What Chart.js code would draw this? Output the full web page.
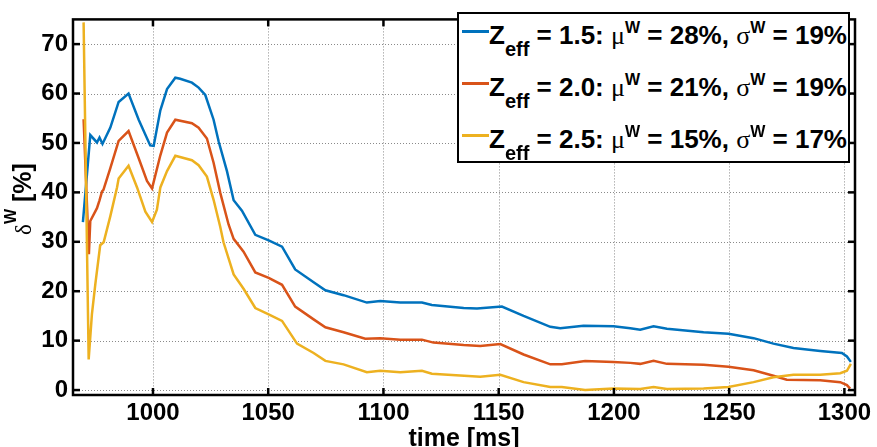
<!DOCTYPE html>
<html><head><meta charset="utf-8">
<script src="https://cdn.jsdelivr.net/npm/chart.js@4.4.0/dist/chart.umd.min.js"></script>
<style>
html,body{margin:0;padding:0;background:#fff;overflow:hidden}
#wrap{position:relative;width:877px;height:447px;overflow:hidden}
#c{position:absolute;left:0;top:0}
.lbl{font-family:"Liberation Sans",Arial,sans-serif;font-weight:bold;color:#000;white-space:nowrap;position:absolute}
.sym{font-family:"Liberation Serif","Times New Roman",serif;font-weight:normal}
.sub{position:relative;font-size:20px;top:12px}
.sup{position:relative;font-size:16px;top:-11px}
#legend{position:absolute;left:457px;top:12px;width:393px;height:151px;box-sizing:border-box;border:2px solid #000;background:#fff}
.row{position:absolute;left:0;width:100%;height:30px}
.sw{position:absolute;left:2.5px;top:10px;width:27px;height:2.5px}
.txt{left:30px;top:0;line-height:30px;font-size:26px}
#xt{left:0;width:928px;text-align:center;top:422px;font-size:25px;line-height:30px}
#yt{left:-76px;top:182px;width:200px;text-align:center;font-size:25px;line-height:30px;transform:rotate(-90deg)}
#yt .sup{top:-15px;font-size:16px}
</style></head>
<body>
<div id="wrap">
<canvas id="c" width="877" height="447"></canvas>
<div id="legend"></div>
<div class="lbl" id="xt">time [ms]</div>
<div class="lbl" id="yt"><span class="sym" style="font-size:23px">δ</span><span class="sup">W</span> [%]</div>
</div>
<script>
// ---- data ----
const xTicks = [1000, 1050, 1100, 1150, 1200, 1250, 1300];
const xTickLabels = ['1000', '1050', '1100', '1150', '1200', '1250', '1300'];
const yTicks = [0, 10, 20, 30, 40, 50, 60, 70];
const yTickLabels = ['0', '10', '20', '30', '40', '50', '60', '70'];

const zeffValues = ['1.5', '2.0', '2.5'];
const muValues = ['28%', '21%', '15%'];
const sigmaValues = ['19%', '19%', '17%'];

const tBlue = [969.6,972.8,975.7,976.8,978.1,981.5,985.1,989.4,993.8,998.8,1000.3,1003.2,1006.1,1009.7,1011.8,1016.9,1019.8,1022.7,1026.3,1028.5,1032.1,1035.0,1038.6,1044.4,1050.2,1056.0,1061.7,1069.7,1074.8,1082.7,1092.8,1098.6,1107.3,1116.7,1121.0,1134.8,1140.6,1151.4,1160.8,1172.4,1176.7,1186.8,1199.8,1207.1,1211.4,1217.2,1223.0,1238.9,1249.7,1260.6,1269.2,1277.9,1289.5,1298.9,1301.1,1302.8];
const vBlue = [34.0,51.6,50.1,51.1,49.8,53.1,58.3,60.0,54.7,49.5,49.4,56.6,60.9,63.2,63.0,62.2,61.2,59.7,54.7,50.3,44.3,38.4,36.3,31.4,30.3,29.0,24.4,21.8,20.2,19.2,17.7,18.0,17.7,17.7,17.2,16.6,16.5,16.9,15.0,12.8,12.5,13.0,12.9,12.5,12.2,12.9,12.4,11.7,11.4,10.5,9.4,8.5,7.9,7.5,6.8,5.7];

const tRed = [969.9,972.2,972.8,975.7,976.8,977.9,978.5,981.5,985.1,989.4,993.8,997.4,999.6,1003.2,1006.1,1009.7,1016.9,1019.8,1023.4,1026.3,1029.2,1032.8,1035.0,1039.3,1044.4,1050.2,1056.0,1061.7,1069.7,1074.8,1082.7,1092.1,1098.6,1107.3,1116.7,1121.7,1134.8,1142.0,1150.7,1160.8,1172.4,1177.4,1187.5,1199.8,1207.1,1211.4,1217.2,1223.0,1238.9,1249.7,1260.6,1269.2,1275.0,1289.5,1298.2,1301.1,1302.5];
const vRed = [54.8,27.5,34.2,36.8,38.4,40.2,40.5,44.9,50.4,52.4,46.9,42.3,40.8,47.5,52.1,54.7,54.0,53.1,50.9,46.0,39.9,33.5,30.6,28.0,23.8,22.7,21.3,16.9,14.3,12.7,11.7,10.4,10.5,10.2,10.2,9.6,9.1,8.9,9.3,7.2,5.2,5.2,5.9,5.7,5.5,5.3,5.9,5.3,5.1,4.7,4.0,2.9,2.1,2.0,1.6,1.0,0.3];

const tYellow = [969.9,972.1,973.5,975.0,977.1,978.6,981.5,984.4,985.1,989.4,993.1,996.7,999.6,1001.7,1003.2,1006.1,1009.7,1016.9,1019.8,1023.4,1026.3,1029.2,1030.6,1035.0,1039.3,1044.4,1050.2,1056.0,1062.5,1069.7,1074.8,1082.7,1092.8,1098.6,1107.3,1116.7,1121.0,1142.0,1150.7,1160.8,1172.4,1177.4,1187.5,1199.8,1211.4,1217.2,1223.0,1238.9,1249.7,1260.6,1269.2,1277.9,1289.5,1298.2,1301.1,1302.8];
const vYellow = [74.4,6.2,15.3,21.5,29.3,29.9,35.2,41.0,42.8,45.4,41.0,36.1,34.0,36.5,41.0,44.3,47.4,46.5,45.5,43.2,38.5,33.0,29.9,23.4,20.5,16.6,15.3,14.0,9.4,7.5,5.9,5.2,3.6,3.9,3.6,3.9,3.3,2.7,3.1,1.6,0.6,0.6,0.0,0.3,0.2,0.6,0.2,0.3,0.6,1.6,2.6,3.1,3.1,3.4,3.9,5.3];

const colors = ['#0072BD', '#D95319', '#EDB120'];

// ---- build ----
const pts = (t, v) => t.map((x, i) => ({x: x, y: v[i]}));

const legend = document.getElementById('legend');
const rowTops = [6, 58, 110];
zeffValues.forEach((z, i) => {
  const row = document.createElement('div');
  row.className = 'row';
  row.style.top = rowTops[i] + 'px';
  row.innerHTML = '<span class="sw" style="background:' + colors[i] + '"></span>' +
    '<span class="lbl txt">Z<span class="sub">eff</span> = ' + z + ': <span class="sym">μ</span><span class="sup">W</span> = ' +
    muValues[i] + ', <span class="sym">σ</span><span class="sup">W</span> = ' + sigmaValues[i] + '</span>';
  legend.appendChild(row);
});

const tickFont = {family: '"Liberation Sans", Arial, sans-serif', size: 24, weight: 'bold'};

const frame = {
  id: 'frame',
  beforeDatasetsDraw(chart) {
    const {ctx, chartArea: a, scales: {x, y}} = chart;
    ctx.save();
    ctx.strokeStyle = '#8a8a8a';
    ctx.lineWidth = 1;
    ctx.setLineDash([1, 2]);
    x.ticks.forEach(t => {
      const p = Math.round(x.getPixelForValue(t.value)) + 0.5;
      ctx.beginPath(); ctx.moveTo(p, a.top); ctx.lineTo(p, a.bottom); ctx.stroke();
    });
    y.ticks.forEach(t => {
      const p = Math.round(y.getPixelForValue(t.value)) + 0.5;
      ctx.beginPath(); ctx.moveTo(a.left, p); ctx.lineTo(a.right, p); ctx.stroke();
    });
    ctx.restore();
  },
  afterDatasetsDraw(chart) {
    const {ctx, chartArea: a, scales: {x, y}} = chart;
    ctx.save();
    ctx.strokeStyle = '#000';
    ctx.lineWidth = 2.5;
    ctx.setLineDash([]);
    const L = 7;
    x.ticks.forEach(t => {
      const p = x.getPixelForValue(t.value);
      ctx.beginPath(); ctx.moveTo(p, a.bottom); ctx.lineTo(p, a.bottom - L); ctx.stroke();
      ctx.beginPath(); ctx.moveTo(p, a.top); ctx.lineTo(p, a.top + L); ctx.stroke();
    });
    y.ticks.forEach(t => {
      const p = y.getPixelForValue(t.value);
      ctx.beginPath(); ctx.moveTo(a.left, p); ctx.lineTo(a.left + L, p); ctx.stroke();
      ctx.beginPath(); ctx.moveTo(a.right, p); ctx.lineTo(a.right - L, p); ctx.stroke();
    });
    ctx.strokeRect(a.left, a.top, a.right - a.left, a.bottom - a.top);
    ctx.restore();
  }
};

const ds = (t, v, c, order) => ({
  data: pts(t, v), borderColor: c, backgroundColor: c, borderWidth: 2.5,
  pointRadius: 0, tension: 0, fill: false, order: order
});

new Chart(document.getElementById('c'), {
  type: 'line',
  data: {datasets: [ds(tBlue, vBlue, colors[0], 3), ds(tRed, vRed, colors[1], 2), ds(tYellow, vYellow, colors[2], 1)]},
  options: {
    responsive: false, animation: false, devicePixelRatio: 1,
    layout: {padding: {top: 7, right: 22, left: 0, bottom: 0}},
    plugins: {legend: {display: false}, tooltip: {enabled: false}},
    scales: {
      x: {
        type: 'linear', min: 965.3, max: 1304.6,
        afterBuildTicks: s => { s.ticks = xTicks.map(v => ({value: v})); },
        afterFit: s => { s.height = 52; },
        grid: {display: false, drawTicks: false}, border: {display: false},
        ticks: {font: tickFont, color: '#000', padding: 4, maxRotation: 0, autoSkip: false,
          callback: (v, i) => xTickLabels[i]}
      },
      y: {
        type: 'linear', min: -1, max: 75,
        afterBuildTicks: s => { s.ticks = yTicks.map(v => ({value: v})); },
        afterFit: s => { s.width = 73; },
        grid: {display: false, drawTicks: false}, border: {display: false},
        ticks: {font: tickFont, color: '#000', padding: 5, autoSkip: false,
          callback: (v, i) => yTickLabels[i]}
      }
    }
  },
  plugins: [frame]
});
</script>
</body></html>
